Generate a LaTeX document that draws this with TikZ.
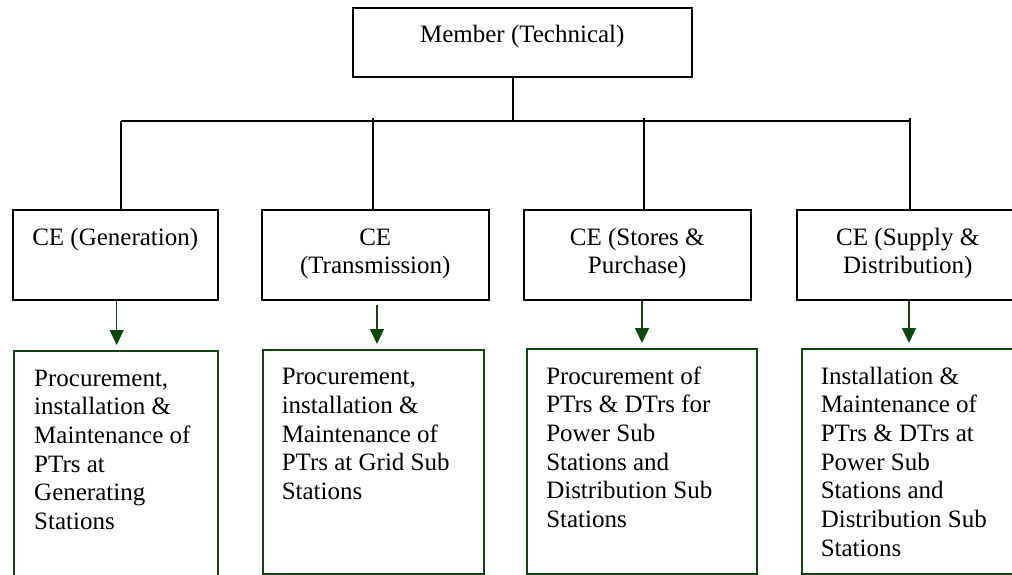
\documentclass[tikz,border=0pt]{standalone}
\usepackage{fontspec}
\setmainfont{Liberation Serif}
\usetikzlibrary{arrows.meta}
\definecolor{dgreen}{RGB}{12,72,12}
\begin{document}
\begin{tikzpicture}[x=1pt,y=-1pt,
  txt/.style={font=\fontsize{25}{28.67}\selectfont},
  blackbox/.style={txt, draw=black, line width=1.5pt, inner sep=0pt, anchor=north west},
  greenbox/.style={txt, draw=dgreen, line width=1.5pt, inner xsep=19.5pt, inner ysep=0pt, anchor=north west},
  link/.style={draw=black, line width=1.8pt},
  arr/.style={draw=dgreen, line width=1.3pt, -{Triangle[length=15pt,width=14pt]}, shorten >=5pt}]
\useasboundingbox (0,0) rectangle (1012,574);

% top box
\node[blackbox] (top) at (352,7) {\parbox[b][69pt][t]{339pt}{\centering\rule{0pt}{34.5pt}Member (Technical)}};

% CE boxes
\node[blackbox] (ce1) at (12,209) {\parbox[b][90pt][t]{205pt}{\centering\rule{0pt}{35.5pt}CE (Generation)}};
\node[blackbox] (ce2) at (261,209) {\parbox[b][90pt][t]{227pt}{\centering\rule{0pt}{35.5pt}CE\\(Transmission)}};
\node[blackbox] (ce3) at (523,209) {\parbox[b][90pt][t]{227pt}{\centering\rule{0pt}{35.5pt}CE (Stores \&\\Purchase)}};
\node[blackbox] (ce4) at (796,209) {\parbox[b][90pt][t]{222pt}{\centering\rule{0pt}{35.5pt}CE (Supply \&\\Distribution)}};

% lower boxes
\node[greenbox, inner xsep=20.5pt] (d1) at (13,350) {\parbox[b][260pt][t]{163pt}{\raggedright\rule{0pt}{35.5pt}Procurement,\\installation \&\\Maintenance of\\PTrs at\\Generating\\Stations}};
\node[greenbox, inner xsep=19pt] (d2) at (262,349) {\parbox[b][224pt][t]{183pt}{\raggedright\rule{0pt}{35pt}Procurement,\\installation \&\\Maintenance of\\PTrs at Grid Sub\\Stations}};
\node[greenbox] (d3) at (526,348) {\parbox[b][225pt][t]{191pt}{\raggedright\rule{0pt}{35.5pt}Procurement of\\PTrs \& DTrs for\\Power Sub\\Stations and\\Distribution Sub\\Stations}};
\node[greenbox, inner xsep=19pt] (d4) at (801,348) {\parbox[b][225pt][t]{192pt}{\raggedright\rule{0pt}{35.5pt}Installation \&\\Maintenance of\\PTrs \& DTrs at\\Power Sub\\Stations and\\Distribution Sub\\Stations}};

% connector coordinates
\coordinate (t0) at (513,120.7);
\coordinate (v1) at (121,120.7);
\coordinate (v2) at (373,118);
\coordinate (v3) at (644,118);
\coordinate (v4) at (910,118);
\coordinate (vR) at (910,120.7);

\draw[link] (top.south -| t0) -- (t0);
\draw[link] (v1) -- (vR);
\draw[link] (v1) -- (v1 |- ce1.north);
\draw[link] (v2) -- (v2 |- ce2.north);
\draw[link] (v3) -- (v3 |- ce3.north);
\draw[link] (v4) -- (v4 |- ce4.north);

% arrows
\coordinate (a1) at (116.7,0);
\coordinate (a2) at (377,0);
\coordinate (a3) at (642,0);
\coordinate (a4) at (909,0);
\draw[arr] (ce1.south -| a1) -- (d1.north -| a1);
\draw[arr, shorten <=4pt] (ce2.south -| a2) -- (d2.north -| a2);
\draw[arr] (ce3.south -| a3) -- (d3.north -| a3);
\draw[arr] (ce4.south -| a4) -- (d4.north -| a4);
\end{tikzpicture}
\end{document}
